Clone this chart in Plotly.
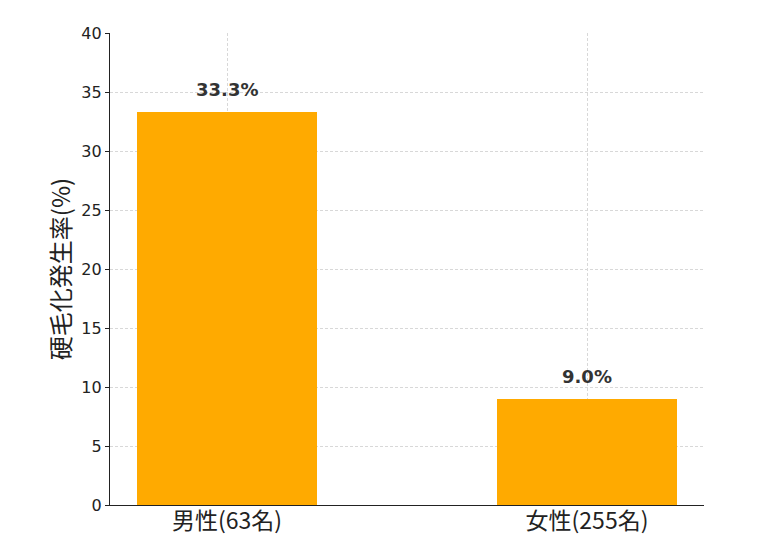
import plotly.graph_objects as go

categories = ["男性(63名)", "女性(255名)"]
rates = [33.3, 9.0]
labels = ["33.3%", "9.0%"]
y_ticks = [0, 5, 10, 15, 20, 25, 30, 35, 40]

FONT = "DejaVu Sans, Noto Sans CJK JP, sans-serif"

fig = go.Figure()
fig.add_trace(
    go.Bar(
        x=[0, 1],
        y=rates,
        width=0.5,
        marker=dict(color="#FFAA00", line=dict(width=0)),
        hoverinfo="skip",
    )
)

for i, (v, t) in enumerate(zip(rates, labels)):
    fig.add_annotation(
        x=i, y=v + 1, text=f"<b>{t}</b>", showarrow=False,
        yanchor="bottom", yshift=-2,
        font=dict(size=18, color="#333333", family=FONT),
    )

# page body has an 8px margin, so shift the plot area by that amount
fig.update_xaxes(
    range=[-0.325, 1.325],
    tickvals=[0, 1],
    ticktext=categories,
    tickfont=dict(size=23, color="#222222", family="Noto Sans CJK JP"),
    ticklabelstandoff=-5,
    showline=True, linecolor="#222222", linewidth=1.2,
    showgrid=True, gridcolor="#d8d8d8", griddash="3px,2px", gridwidth=0.8,
    ticks="", zeroline=False,
)
fig.update_yaxes(
    range=[0, 40],
    tickvals=y_ticks,
    tickfont=dict(size=16, color="#222222", family=FONT),
    title=dict(text="硬毛化発生率(%)", font=dict(size=24, color="#222222", family="Noto Sans CJK JP"), standoff=3),
    showline=True, linecolor="#222222", linewidth=1.2,
    showgrid=True, gridcolor="#d8d8d8", griddash="3px,2px", gridwidth=0.8,
    ticks="outside", ticklen=4, tickcolor="#222222", zeroline=False,
)

fig.update_layout(
    width=780, height=553,
    margin=dict(l=102, r=84, t=25, b=56),
    plot_bgcolor="white", paper_bgcolor="white",
    showlegend=False, bargap=0,
)

fig.write_html("out.html")
